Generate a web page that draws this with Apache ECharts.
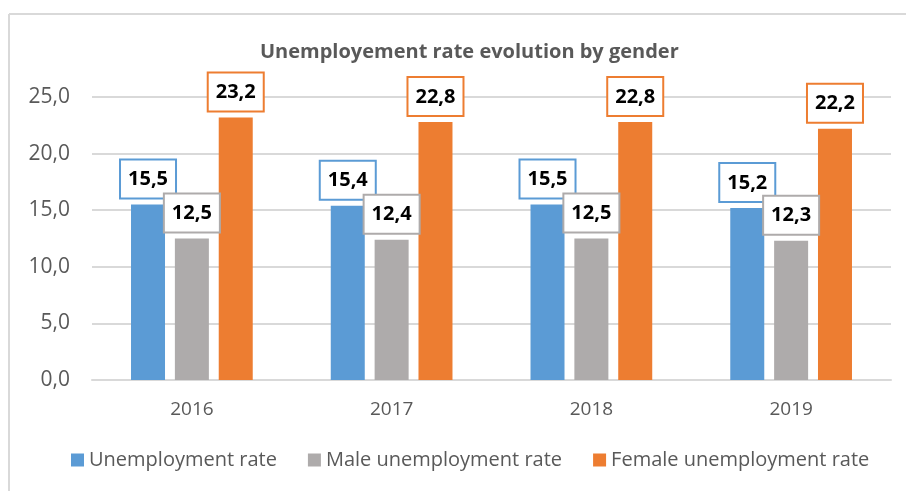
<!DOCTYPE html>
<html>
<head>
<meta charset="utf-8">
<script src="https://cdn.jsdelivr.net/npm/echarts@6/dist/echarts.min.js"></script>
<style>
  html, body { margin:0; padding:0; background:#fff; }
  #chart { width:906px; height:491px; }
</style>
</head>
<body>
<div id="chart"></div>
<script>
// ---- data ----
const years = ['2016', '2017', '2018', '2019'];
const totalRate = [15.5, 15.4, 15.5, 15.2];
const maleRate = [12.5, 12.4, 12.5, 12.3];
const femaleRate = [23.2, 22.8, 22.8, 22.2];
const seriesNames = ['Unemployment rate', 'Male unemployment rate', 'Female unemployment rate'];
const colors = ['#5B9BD5', '#AEABAB', '#ED7D31'];

const fmt = v => v.toFixed(1).replace('.', ',');
const font = '"Open Sans", "Noto Sans", sans-serif';

function barSeries(name, data, color){
  return {
    name, type:'bar', data,
    barWidth:34, barGap:'29%',
    itemStyle:{ color },
    label:{
      show:true, position:'top', distance:7,
      formatter:p => fmt(p.value),
      fontFamily:font, fontSize:20, fontWeight:'bold', color:'#000',
      backgroundColor:'#fff', borderColor:color, borderWidth:2,
      padding:[9, 7, 8, 7], lineHeight:20
    }
  };
}

const chart = echarts.init(document.getElementById('chart'));
chart.setOption({
  animation:false,
  color:colors,
  textStyle:{ fontFamily:font },
  title:{
    text:'Unemployement rate evolution by gender',
    left:255, top:37,
    textStyle:{ fontFamily:font, fontSize:20, fontWeight:'bold', color:'#595959' }
  },
  legend:{
    bottom:16, left:66,
    itemWidth:13, itemHeight:13, itemGap:31,
    icon:'rect',
    textStyle:{ fontFamily:font, fontSize:20, color:'#595959' },
    data:seriesNames
  },
  grid:{ left:92, right:15, top:97, bottom:111 },
  xAxis:{
    type:'category', data:years,
    axisLine:{ lineStyle:{ color:'#d9d9d9', width:2 } },
    axisTick:{ show:false },
    axisLabel:{ fontFamily:font, fontSize:19, color:'#595959', margin:20 }
  },
  yAxis:{
    type:'value', min:0, max:25, interval:5,
    axisLine:{ show:false }, axisTick:{ show:false },
    splitLine:{ lineStyle:{ color:'#d9d9d9', width:2 } },
    axisLabel:{ fontFamily:font, fontSize:21, color:'#595959', margin:22, formatter:v => fmt(v) }
  },
  graphic:[
    { type:'line', shape:{ x1:9, y1:14, x2:906, y2:14 }, style:{ stroke:'#d9d9d9', lineWidth:2 } },
    { type:'line', shape:{ x1:9, y1:14, x2:9, y2:491 }, style:{ stroke:'#d9d9d9', lineWidth:2 } }
  ],
  series:[
    barSeries(seriesNames[0], totalRate, colors[0]),
    barSeries(seriesNames[1], maleRate, colors[1]),
    barSeries(seriesNames[2], femaleRate, colors[2])
  ]
});
</script>
</body>
</html>
